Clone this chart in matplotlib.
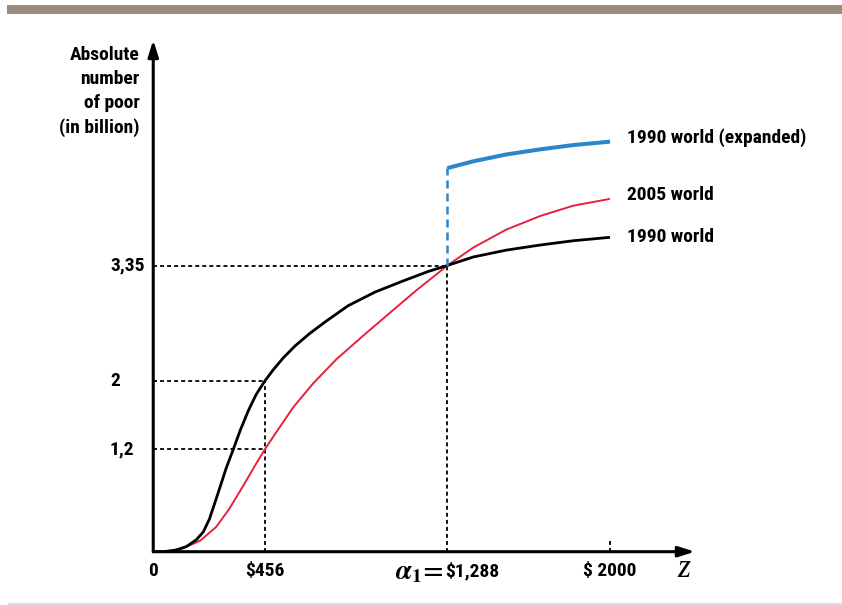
import numpy as np
import matplotlib
matplotlib.use("Agg")
import matplotlib.pyplot as plt
from matplotlib import font_manager
from matplotlib.patches import Rectangle

# z values (dollars) and absolute number of poor (billions)
world_1990_z = [0, 41, 94, 135, 176, 204, 229, 249, 273, 298, 327, 355, 388, 420, 456,
                494, 540, 594, 658, 736, 836, 959, 1087, 1201, 1288, 1402, 1546, 1695,
                1839, 2000]
world_1990_n = [0, 0.0, 0.02, 0.06, 0.14, 0.23, 0.38, 0.55, 0.76, 0.98, 1.20, 1.42, 1.65,
                1.84, 2.00, 2.13, 2.27, 2.41, 2.55, 2.70, 2.88, 3.04, 3.17, 3.28, 3.35,
                3.45, 3.53, 3.59, 3.64, 3.68]

world_2005_z = [53, 122, 192, 257, 310, 367, 420, 456, 508, 585, 676, 781, 905, 1028,
                1147, 1238, 1288, 1402, 1546, 1695, 1839, 2000]
world_2005_n = [0, 0.04, 0.13, 0.29, 0.50, 0.77, 1.03, 1.20, 1.40, 1.69, 1.97, 2.25,
                2.53, 2.80, 3.06, 3.245, 3.35, 3.56, 3.77, 3.93, 4.05, 4.13]

expanded_z = [1288, 1402, 1546, 1695, 1839, 2000]
expanded_n = [4.49, 4.57, 4.65, 4.71, 4.76, 4.80]

z_marks = [456, 1288]          # poverty lines with guides
n_marks = [2.0, 3.35]          # poor counted under 1990 world at those lines
n_2005_at_456 = 1.2
y_ticks = [1.2, 2.0, 3.35]
y_ticklabels = ["1,2", "2", "3,35"]

RED = "#e8203f"
BLUE = "#2b87c9"


def pick_font():
    names = {f.name for f in font_manager.fontManager.ttflist}
    for name in ["Liberation Sans Narrow", "Roboto Condensed", "Open Sans Condensed",
                 "DejaVu Sans Condensed", "Lato", "Roboto"]:
        if name in names:
            return name
    return "DejaVu Sans"


FONT = pick_font()
plt.rcParams["font.family"] = [FONT, "DejaVu Sans"]
plt.rcParams["font.weight"] = "bold"
plt.rcParams["mathtext.fontset"] = "stix"

# the z axis of the original sketch is not drawn to scale: map dollars to position
scale_z = [0, 456, 1288, 2000, 3000]
scale_pos = [0, 0.2062, 0.5427, 0.8431, 1.265]


def fwd(z):
    return np.interp(z, scale_z, scale_pos)


def inv(p):
    return np.interp(p, scale_pos, scale_z)


fig = plt.figure(figsize=(8.42, 6.05), dpi=100)
ax = fig.add_axes([0.182, 0.0881, 0.6434, 0.8458])
ax.set_xscale("function", functions=(fwd, inv))
ax.set_xlim(0, float(inv(1.0)))
ax.set_ylim(0, 5.99)
ax.set_xticks([])
ax.set_yticks([])
for s in ax.spines.values():
    s.set_visible(False)

# decoration bars of the source page
fig.add_artist(Rectangle((7 / 842, 1 - 13.5 / 605), 835 / 842, 8 / 605,
                         transform=fig.transFigure, color="#9b8c80", lw=0))
fig.add_artist(Rectangle((8 / 842, 1 - 604.5 / 605), 834 / 842, 1.5 / 605,
                         transform=fig.transFigure, color="#dddddd", lw=0))

dot = dict(color="black", lw=1.3, linestyle=(0, (2.2, 1.7)))
# horizontal guides
ax.plot([0, z_marks[1]], [n_marks[1], n_marks[1]], **dot)
ax.plot([0, z_marks[0]], [n_marks[0], n_marks[0]], **dot)
ax.plot([0, z_marks[0]], [n_2005_at_456, n_2005_at_456], **dot)
# vertical guides
ax.plot([z_marks[0], z_marks[0]], [0, n_marks[0]], **dot)
ax.plot([z_marks[1], z_marks[1]], [0, n_marks[1]], **dot)
ax.plot([2000, 2000], [0, 0.13], **dot)

# curves
ax.plot(world_2005_z, world_2005_n, color=RED, lw=1.4, solid_capstyle="butt",
        solid_joinstyle="round")
ax.plot(world_1990_z, world_1990_n, color="black", lw=2.0, solid_capstyle="butt",
        solid_joinstyle="round")
ax.plot([expanded_z[0], expanded_z[0]], [n_marks[1], expanded_n[0]], color=BLUE,
        lw=1.8, linestyle=(0, (3.2, 2.0)))
ax.plot(expanded_z, expanded_n, color=BLUE, lw=2.9, solid_capstyle="butt",
        solid_joinstyle="round")

# axes with arrow heads
arrow = dict(arrowstyle="-|>,head_length=0.7,head_width=0.22", color="black", lw=2.2,
             shrinkA=0, shrinkB=0, mutation_scale=14)
ax.annotate("", xy=(0, 1), xytext=(0, 0), xycoords="axes fraction", arrowprops=arrow)
ax.annotate("", xy=(1, 0), xytext=(0, 0), xycoords="axes fraction", arrowprops=arrow)

fs = 14
# curve labels
for z, n, lab, dy in [(expanded_z, expanded_n, "1990 world (expanded)", 3),
                      (world_2005_z, world_2005_n, "2005 world", 3),
                      (world_1990_z, world_1990_n, "1990 world", 0)]:
    ax.annotate(lab, xy=(z[-1], n[-1]), xytext=(12.5, dy),
                textcoords="offset points", ha="left", va="center", fontsize=fs)

# y tick labels
ytr = ax.get_yaxis_transform()
for v, lab in zip(y_ticks, y_ticklabels):
    ax.text(-0.08, v, lab, transform=ytr, ha="left", va="center", fontsize=fs)

ax.text(-0.0255, 0.8994, "Absolute\nnumber\nof poor\n(in billion)", transform=ax.transAxes,
        ha="right", va="center", multialignment="right", fontsize=fs, linespacing=1.43)

# x tick labels
xtr = ax.get_xaxis_transform()
ax.text(0, -0.0377, "0", transform=xtr, ha="center", va="center", fontsize=fs)
ax.text(z_marks[0], -0.0377, r"\$456", transform=xtr, ha="center", va="center", fontsize=fs)
ax.annotate(r"\$1,288", xy=(z_marks[1], 0), xycoords=xtr, xytext=(-1.5, -13.9),
            textcoords="offset points", ha="left", va="center", fontsize=fs)
ax.annotate(r"$\alpha_1\!=$", xy=(z_marks[1], 0), xycoords=xtr, xytext=(-2.5, -14),
            textcoords="offset points", ha="right", va="center", fontsize=20,
            fontweight="normal")
ax.text(2000, -0.0377, r"\$ 2000", transform=xtr, ha="center", va="center", fontsize=fs)
ax.text(0.979, -0.034, "z", transform=ax.transAxes, ha="center", va="center",
        fontsize=24, family="Liberation Serif", style="italic", fontweight="normal")

fig.savefig("out.png", dpi=100)
